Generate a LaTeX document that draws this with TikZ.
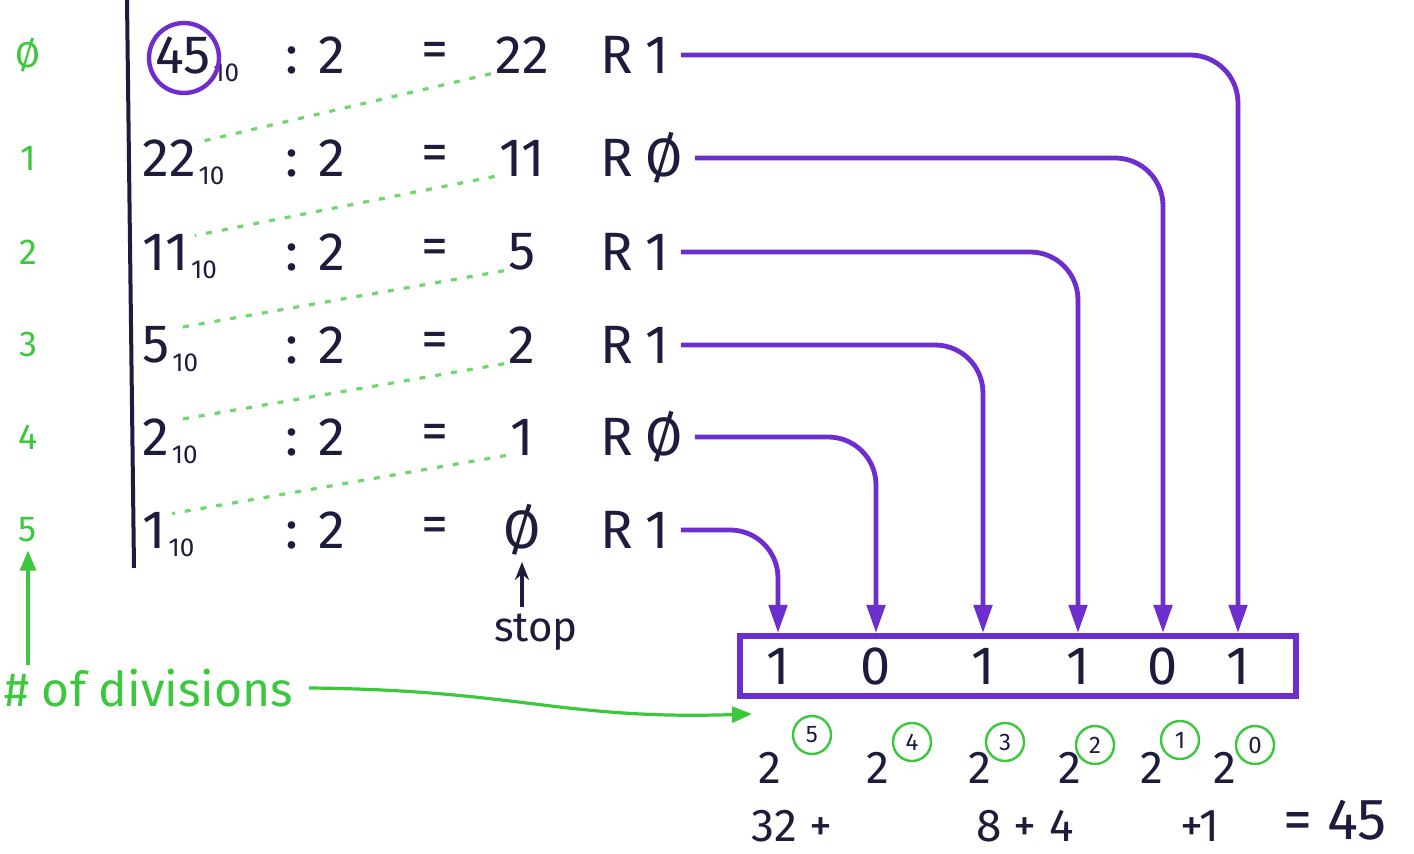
\documentclass[tikz,border=0pt]{standalone}
\usepackage{fontspec}
\setmainfont{Fira Sans}
\usetikzlibrary{arrows.meta}
\definecolor{ink}{RGB}{30,28,60}
\definecolor{vio}{RGB}{110,45,205}
\definecolor{grn}{RGB}{60,200,60}
\definecolor{lgrn}{RGB}{110,215,110}
\tikzset{
  num/.style={font=\fontsize{27}{30}\selectfont, text=ink, inner sep=0pt},
  subs/.style={font=\fontsize{13}{14}\selectfont, text=ink, inner sep=0pt},
  idx/.style={font=\fontsize{18}{20}\selectfont, text=grn, inner sep=0pt},
  pow/.style={font=\fontsize{23}{25}\selectfont, text=ink, inner sep=0pt},
  expo/.style={circle, draw=grn, line width=1.2pt, minimum size=19pt, inner sep=0pt,
               font=\fontsize{12}{13}\selectfont, text=ink},
  remarrow/.style={draw=vio, line width=2.4pt, rounded corners=24pt,
                   -{Triangle[length=14pt,width=9pt]}},
  dotline/.style={draw=lgrn, line width=1.6pt, dash pattern=on 3pt off 5pt},
  grarrow/.style={draw=grn, line width=1.6pt, -{Triangle[length=10pt,width=8pt]}},
}
\begin{document}
\begin{tikzpicture}[x=0.5pt,y=-0.5pt]
\useasboundingbox (0,0) rectangle (1414,854);
\fill[white] (0,0) rectangle (1414,854);

% vertical bar
\draw[ink, line width=2pt] (127,0) -- (134,568);

% rows
\foreach \i/\y/\k/\d/\q/\r/\dx in {0/55/Ø/45/22/1/155, 1/158/1/22/11/Ø/142, 2/252/2/11/5/1/142, 3/345/3/5/2/1/142, 4/437/4/2/1/Ø/142, 5/530/5/1/Ø/1/142} {
  \node[idx] (k\i) at (28,\y) {\k};
  \node[num, anchor=west] (d\i) at (\dx,\y) {\d};
  \node[subs, anchor=west] (s\i) at ([xshift=1pt,yshift=-9pt]d\i.east) {10};
  \node[num] (c\i) at (315,\y) {:\hspace{10pt}2};
  \node[num] (eq\i) at (435,\y) {=};
  \node[num] (q\i) at (522,\y) {\q};
  \node[num, anchor=west] (r\i) at (600,\y) {R\hspace{6pt}\r};
}

% circle around 45
\node[draw=vio, line width=2.2pt, circle, minimum size=35pt, inner sep=0pt] (circ) at (184,58) {};

% bit box
\node[draw=vio, line width=3pt, minimum width=278pt, minimum height=30pt, inner sep=0pt] (box) at (1018,666) {};
\foreach \i/\x/\b in {5/778/1, 4/876/0, 3/983/1, 2/1078/1, 1/1163/0, 0/1238/1} {
  \node[num] (b\i) at (\x,666) {\b};
}

% remainder arrows
\foreach \i in {0,...,5} {
  \draw[remarrow] ([xshift=6pt]r\i.east) -| (b\i |- box.north);
}

% dotted links quotient -> next dividend
\foreach \i/\j in {0/1, 1/2, 2/3, 3/4, 4/5} {
  \draw[dotline] ([xshift=-2pt]q\i.south west) -- ([xshift=3pt,yshift=-1pt]d\j.north east);
}

% powers of two
\foreach \i/\x/\ex/\ey in {5/770/812/735, 4/878/912/742, 3/980/1005/742, 2/1070/1095/745, 1/1152/1180/740, 0/1225/1255/745} {
  \node[pow] (p\i) at (\x,768) {2};
  \node[expo] (x\i) at (\ex,\ey) {\i};
}

% sum line
\node[pow] (t5) at (792,826) {32 +};
\node[pow] (t3) at (1025,826) {8 + 4};
\node[pow] (t0) at (1200,826) {+1};
\node[font=\fontsize{29}{31}\selectfont, text=ink, inner sep=0pt] (tot) at (1335,820) {= 45};

% stop
\node[font=\fontsize{21}{24}\selectfont, text=ink, inner sep=0pt] (stop) at (536,632) {stop};
\draw[ink, line width=1.6pt, -{Stealth[length=9pt,width=7pt]}] ([yshift=3pt]stop.north -| q5) -- ([yshift=-3pt]q5.south);

% number of divisions
\node[font=\fontsize{24}{26}\selectfont, text=grn, inner sep=0pt, anchor=west] (divs) at (4,688) {\# of divisions};
\coordinate (gtip) at (752,714);
\draw[grarrow] ([yshift=2pt]divs.north -| k5) -- ([yshift=-4pt]k5.south);
\draw[grarrow] ([xshift=8pt]divs.east) .. controls (520,690) and (560,720) .. (gtip);
\end{tikzpicture}
\end{document}
